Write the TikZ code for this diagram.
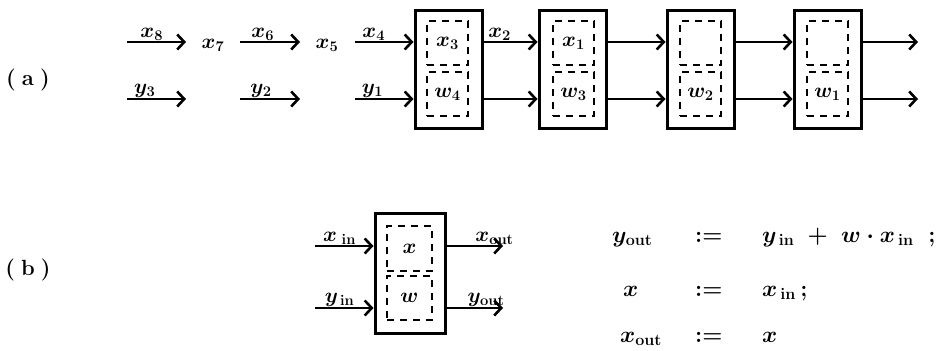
\RequirePackage{fix-cm}
\documentclass[tikz,border=0pt]{standalone}
\usepackage{amsmath}
\usetikzlibrary{arrows.meta}
\begin{document}
\begin{tikzpicture}[x=1pt,y=-1pt,
  font=\boldmath\fontsize{21}{24}\selectfont,
  arr/.style={line width=2.6pt, -{Straight Barb[length=7pt,width=15pt,line width=2.6pt]}},
  outer/.style={draw, line width=3pt, minimum width=67pt, minimum height=118pt, inner sep=0pt},
  inner/.style={draw, line width=2.4pt, dash pattern=on 7pt off 6pt, minimum width=41pt, minimum height=44pt, inner sep=0pt},
  lab/.style={inner sep=0.5pt, anchor=south},
  tag/.style={inner sep=0pt, font=\fontsize{22}{25}\selectfont\bfseries},
  eq/.style={inner sep=0pt, anchor=base west, font=\boldmath\fontsize{23}{26}\selectfont},
  plain/.style={inner sep=0pt}]
\useasboundingbox (0,0) rectangle (938,351);
% ---------- (a)
\node[tag] (la) at (28,80) {(\;a\;)};
\coordinate (rowT) at (0,42);
\coordinate (rowB) at (0,99);
% boxes
\node[outer] (B1) at (448.5,69) {};
\node[inner] (B1t) at (447.5,43) {$x_3$};
\node[inner] (B1b) at (447.5,94) {$w_4$};
\node[outer] (B2) at (572.5,69) {};
\node[inner] (B2t) at (573.5,43) {$x_1$};
\node[inner] (B2b) at (573.5,94) {$w_3$};
\node[outer] (B3) at (700.5,69) {};
\node[inner] (B3t) at (700.5,43) {};
\node[inner] (B3b) at (700.5,94) {$w_2$};
\node[outer] (B4) at (827.5,69) {};
\node[inner] (B4t) at (827.5,43) {};
\node[inner] (B4b) at (827.5,94) {$w_1$};
% left chain
\coordinate (a1s) at (127,42); \coordinate (a1e) at (186,42);
\coordinate (a2s) at (240,42); \coordinate (a2e) at (300,42);
\coordinate (a3s) at (355,42);
\coordinate (b1s) at (127,99); \coordinate (b1e) at (186,99);
\coordinate (b2s) at (240,99); \coordinate (b2e) at (300,99);
\coordinate (b3s) at (355,99);
\node[plain] (x7) at (213,45) {$x_7$};
\node[plain] (x5) at (327,45) {$x_5$};
\draw[arr] (a1s) -- node[lab,pos=0.42] (lx8) {$x_8$} (a1e);
\draw[arr] (a2s) -- node[lab,pos=0.38] (lx6) {$x_6$} (a2e);
\draw[arr] (a3s) -- node[lab,pos=0.32] (lx4) {$x_4$} (B1.west |- rowT);
\draw[arr] (b1s) -- node[lab,pos=0.3] (ly3) {$y_3$} (b1e);
\draw[arr] (b2s) -- node[lab,pos=0.35] (ly2) {$y_2$} (b2e);
\draw[arr] (b3s) -- node[lab,pos=0.3] (ly1) {$y_1$} (B1.west |- rowB);
% between boxes
\draw[arr] (B1.east |- rowT) -- node[lab,pos=0.3] (lx2) {$x_2$} (B2.west |- rowT);
\draw[arr] (B1.east |- rowB) -- (B2.west |- rowB);
\draw[arr] (B2.east |- rowT) -- (B3.west |- rowT);
\draw[arr] (B2.east |- rowB) -- (B3.west |- rowB);
\draw[arr] (B3.east |- rowT) -- (B4.west |- rowT);
\draw[arr] (B3.east |- rowB) -- (B4.west |- rowB);
\coordinate (endT) at (918,42); \coordinate (endB) at (918,99);
\draw[arr] (B4.east |- rowT) -- (endT);
\draw[arr] (B4.east |- rowB) -- (endB);
% ---------- (b)
\node[tag] (lb) at (28,270) {(\;b\;)};
\node[outer, minimum width=70pt, minimum height=120pt] (C) at (410,273) {};
\node[inner, minimum width=45pt, minimum height=45pt] (Ct) at (409.5,248.5) {$x$};
\node[inner, minimum width=45pt, minimum height=44pt] (Cb) at (409.5,298) {$w$};
\coordinate (cT) at (0,246); \coordinate (cB) at (0,308);
\coordinate (inT) at (315,246); \coordinate (inB) at (315,308);
\coordinate (outT) at (503,246); \coordinate (outB) at (503,308);
\draw[arr] (inT) -- node[lab,pos=0.42] (lxin) {$x_{\;\mathrm{in}}$} (C.west |- cT);
\draw[arr] (inB) -- node[lab,pos=0.42] (lyin) {$y_{\,\mathrm{in}}$} (C.west |- cB);
\draw[arr] (C.east |- cT) -- node[lab,pos=0.85] (lxout) {$x_{\mathrm{out}}$} (outT);
\draw[arr] (C.east |- cB) -- node[lab,pos=0.7] (lyout) {$y_{\mathrm{out}}$} (outB);
% equations
\node[eq] (e1l) at (612,242) {$y_{\mathrm{out}}$};
\node[eq] (e1m) at (695,242) {$:=$};
\node[eq] (e1r) at (762,242) {$y_{\,\mathrm{in}}\;+\;w\cdot x_{\,\mathrm{in}}\;\;;$};
\node[eq] (e2l) at (623,296) {$x$};
\node[eq] (e2m) at (695,296) {$:=$};
\node[eq] (e2r) at (762,296) {$x_{\,\mathrm{in}}\,;$};
\node[eq] (e3l) at (620,342) {$x_{\mathrm{out}}$};
\node[eq] (e3m) at (695,342) {$:=$};
\node[eq] (e3r) at (762,342) {$x$};
\end{tikzpicture}
\end{document}
